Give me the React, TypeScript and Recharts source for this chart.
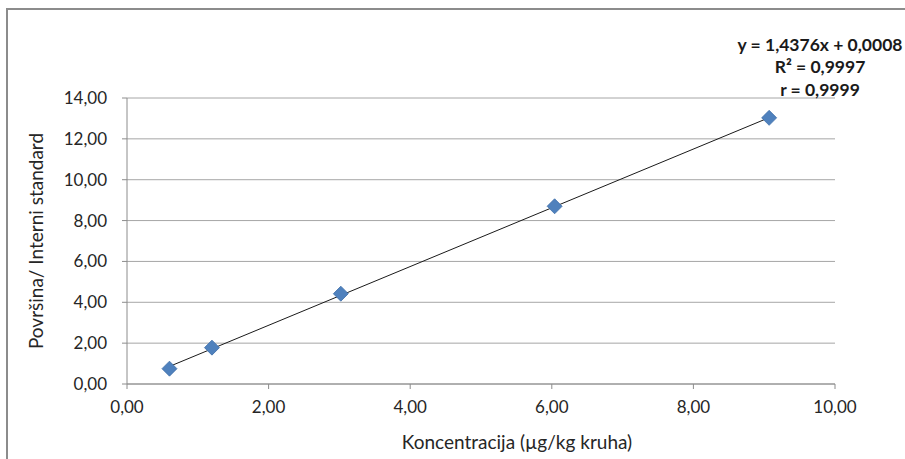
import React from 'react';
import {
  ComposedChart,
  Scatter,
  XAxis,
  YAxis,
  CartesianGrid,
} from 'recharts';

// measured points (koncentracija, površina / interni standard)
const concentrations = [0.6, 1.2, 3.02, 6.04, 9.07];
const ratios = [0.75, 1.78, 4.42, 8.7, 13.03];

// ends of the linear trendline as drawn in the original
const trendX = [0.6, 9.07];
const trendY = [0.86, 13.04];

const xTicks = [0, 2, 4, 6, 8, 10];
const yTicks = [0, 2, 4, 6, 8, 10, 12, 14];

const equationLines = ['y = 1,4376x + 0,0008', 'R² = 0,9997', 'r = 0,9999'];

const points = concentrations.map((x, i) => ({ x, y: ratios[i] }));
const trend = trendX.map((x, i) => ({ x, y: trendY[i] }));

const FONT = 'Lato, "Open Sans", sans-serif';
const fmt = (v: number) => v.toFixed(2).replace('.', ',');

const Diamond = (props: any) => {
  const { cx, cy } = props;
  const r = 7.5;
  return (
    <polygon
      points={`${cx},${cy - r} ${cx + r},${cy} ${cx},${cy + r} ${cx - r},${cy}`}
      fill="#4f81bd"
      stroke="#3f6fa8"
      strokeWidth={0.8}
    />
  );
};

export default function App() {
  return (
    <div style={{ position: 'absolute', left: 0, top: 0, width: 905, height: 459, background: '#fff' }}>
      <div
        style={{
          position: 'absolute',
          left: 6,
          top: 8,
          right: 0,
          bottom: 0,
          borderTop: '2px solid #8c8c8c',
          borderLeft: '2px solid #8c8c8c',
        }}
      />
      <div style={{ position: 'absolute', left: 0, top: 0 }}>
        <ComposedChart
          width={905}
          height={459}
          margin={{ top: 98, right: 70, bottom: 45, left: 0 }}
          style={{ fontFamily: FONT }}
        >
          <CartesianGrid vertical={false} stroke="#a6a6a6" strokeWidth={1} />
          <XAxis
            type="number"
            dataKey="x"
            domain={[0, 10]}
            ticks={xTicks}
            tickFormatter={fmt}
            height={30}
            stroke="#8c8c8c"
            tickSize={5}
            tickMargin={12}
            tick={{ fontSize: 17, fill: '#262626', fontFamily: FONT }}
            allowDataOverflow
          />
          <YAxis
            type="number"
            dataKey="y"
            domain={[0, 14]}
            ticks={yTicks}
            tickFormatter={fmt}
            width={127}
            stroke="#8c8c8c"
            tickSize={5}
            tickMargin={15}
            tick={{ fontSize: 17, fill: '#262626', fontFamily: FONT }}
            allowDataOverflow
          />
          <Scatter
            data={trend}
            line={{ stroke: '#1a1a1a', strokeWidth: 1 }}
            shape={() => null}
            isAnimationActive={false}
          />
          <Scatter data={points} shape={<Diamond />} isAnimationActive={false} />
          <text
            x={35}
            y={241}
            transform="rotate(-90 35 241)"
            textAnchor="middle"
            dominantBaseline="central"
            fontSize={19}
            fill="#262626"
            fontFamily={FONT}
          >
            Površina/ Interni standard
          </text>
          <text
            x={517}
            y={441}
            textAnchor="middle"
            dominantBaseline="central"
            fontSize={19}
            fill="#262626"
            fontFamily={FONT}
          >
            Koncentracija (µg/kg kruha)
          </text>
          {equationLines.map((line, i) => (
            <text
              key={line}
              x={820}
              y={44 + i * 22.5}
              textAnchor="middle"
              dominantBaseline="central"
              fontSize={17.5}
              fontWeight="bold"
              fill="#1a1a1a"
              fontFamily={FONT}
            >
              {line}
            </text>
          ))}
        </ComposedChart>
      </div>
    </div>
  );
}
